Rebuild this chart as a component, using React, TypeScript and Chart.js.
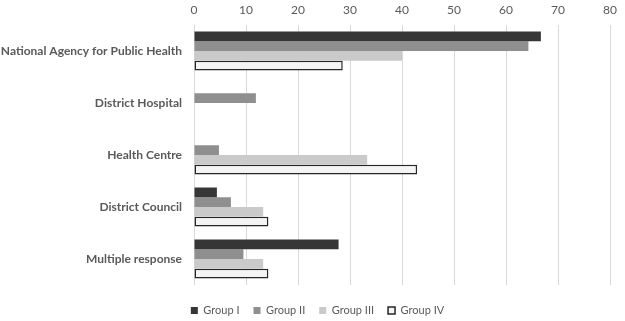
import React, { useEffect, useRef } from "react";
import { Chart, registerables } from "chart.js";

Chart.register(...registerables);

const categories = [
  "National Agency for Public Health",
  "District Hospital",
  "Health Centre",
  "District Council",
  "Multiple response",
];
const seriesNames = ["Group I", "Group II", "Group III", "Group IV"];
const groupI = [66.7, 0, 0, 4.4, 27.8];
const groupII = [64.3, 11.9, 4.8, 7.1, 9.5];
const groupIII = [40, 0, 33.3, 13.3, 13.3];
const groupIV = [28.6, 0, 42.9, 14.3, 14.3];
const xTicks = [0, 10, 20, 30, 40, 50, 60, 70, 80];

const FONT = "Lato";
const TEXT = "#595959";

const legendShift = {
  id: "legendShift",
  afterLayout(chart: any) {
    const lg = chart.legend;
    if (lg) {
      lg.top += 6;
      lg.bottom += 6;
      lg.left += 10;
      lg.right += 10;
    }
  },
};

export default function App() {
  const ref = useRef<HTMLCanvasElement | null>(null);
  useEffect(() => {
    document.body.style.margin = "0";
    const ctx = ref.current!;
    const chart = new Chart(ctx, {
      type: "bar",
      data: {
        labels: categories,
        datasets: [
          { label: seriesNames[0], data: groupI, backgroundColor: "#363636", borderWidth: 0 },
          { label: seriesNames[1], data: groupII, backgroundColor: "#8f8f8f", borderWidth: 0 },
          { label: seriesNames[2], data: groupIII, backgroundColor: "#cacaca", borderWidth: 0 },
          {
            label: seriesNames[3],
            data: groupIV,
            backgroundColor: "#f4f4f4",
            borderColor: "#262626",
            borderWidth: 1.5,
            borderSkipped: false,
          },
        ],
      },
      options: {
        indexAxis: "y",
        animation: false,
        responsive: false,
        maintainAspectRatio: false,
        layout: { padding: { left: 0, right: 10, top: 0, bottom: 1 } },
        datasets: { bar: { categoryPercentage: 0.75, barPercentage: 1 } },
        scales: {
          x: {
            position: "top",
            min: 0,
            max: 80,
            afterBuildTicks: (scale: any) => {
              scale.ticks = xTicks.map((v) => ({ value: v }));
            },
            afterFit: (scale: any) => {
              scale.height = 25;
            },
            grid: { color: "#d9d9d9", drawTicks: false, lineWidth: 1 },
            border: { display: false },
            ticks: { color: TEXT, padding: 8, font: { family: FONT, size: 12 } },
          },
          y: {
            afterFit: (scale: any) => {
              scale.width = 194;
            },
            grid: { display: false, drawTicks: false },
            border: { display: false },
            ticks: { color: TEXT, padding: 12, font: { family: FONT, size: 12, weight: "bold" } },
          },
        },
        plugins: {
          legend: {
            position: "bottom",
            labels: {
              color: TEXT,
              boxWidth: 7,
              boxHeight: 7,
              padding: 14,
              font: { family: FONT, size: 11 },
            },
          },
          tooltip: { enabled: false },
        },
      },
      plugins: [legendShift],
    });
    return () => chart.destroy();
  }, []);
  return (
    <div style={{ position: "absolute", left: 0, top: 0, width: 625, height: 321, background: "#fff" }}>
      <canvas ref={ref} width={625} height={321} style={{ width: 625, height: 321 }} />
    </div>
  );
}
